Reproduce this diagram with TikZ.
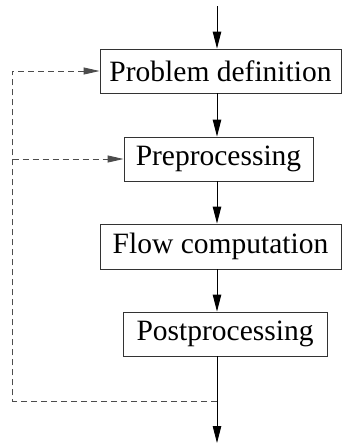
\documentclass[tikz,border=0pt]{standalone}
\usepackage{fontspec}
\setmainfont{Liberation Serif}
\usetikzlibrary{arrows.meta}
\begin{document}
\begin{tikzpicture}[x=1pt,y=-1pt,
  stepbox/.style={draw=black!80, line width=0.9pt, rectangle, inner sep=0pt, font=\fontsize{29.5}{34}\selectfont},
  flow/.style={draw=black, line width=0.9pt, -{Triangle[length=17pt,width=8.5pt]}},
  fb/.style={draw=black!70, line width=0.9pt, dash pattern=on 6pt off 4pt, -{Triangle[length=16pt,width=7pt]}}]
\useasboundingbox (0,0) rectangle (342,445);
\node[stepbox, minimum width=241pt, minimum height=44pt] (pd) at (220.5,71) {Problem definition};
\node[stepbox, minimum width=189pt, minimum height=44pt] (pre) at (218.5,159) {Preprocessing};
\node[stepbox, minimum width=241pt, minimum height=45pt] (fc) at (220.5,246.5) {Flow computation};
\node[stepbox, minimum width=204pt, minimum height=44pt] (post) at (225,334) {Postprocessing};
\coordinate (top) at (217,6);
\coordinate (bot) at (217,443);
\coordinate (mid) at (217,401);
\coordinate (left) at (12.7,401);
\draw[flow] (top) -- (top |- pd.north);
\draw[flow] (top |- pd.south) -- (top |- pre.north);
\draw[flow] (top |- pre.south) -- (top |- fc.north);
\draw[flow] (top |- fc.south) -- (top |- post.north);
\draw[flow] (top |- post.south) -- (bot);
\draw[fb] (mid) -- (left) -- (left |- pd.west) -- (pd.west);
\draw[fb] (left |- pre.west) -- (pre.west);
\end{tikzpicture}
\end{document}
